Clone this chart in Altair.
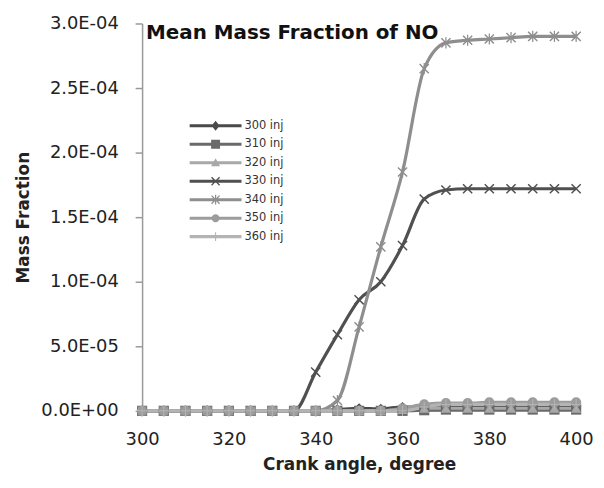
import altair as alt
import pandas as pd

angles = list(range(300, 401, 5))
series_names = ["300 inj", "310 inj", "320 inj", "330 inj", "340 inj", "350 inj", "360 inj"]

v300 = [0, 0, 0, 0, 0, 0, 0, 0, 0, 1e-6, 2e-6, 1.5e-6, 3e-6, 3e-6, 3.5e-6, 3.5e-6, 3.5e-6, 3.5e-6, 3.5e-6, 3.5e-6, 3.5e-6]
v310 = [0, 0, 0, 0, 0, 0, 0, 0, 0, 0, 0, 0, 0, 0.5e-6, 1e-6, 1e-6, 1e-6, 1e-6, 1e-6, 1e-6, 1e-6]
v320 = [0, 0, 0, 0, 0, 0, 0, 0, 0, 0, 0, 0, 1e-6, 2e-6, 2e-6, 2e-6, 2e-6, 2e-6, 2e-6, 2e-6, 2e-6]
v330 = [0, 0, 0, 0, 0, 0, 0, 0, 3.0e-5, 5.9e-5, 8.6e-5, 1.0e-4, 1.28e-4, 1.64e-4, 1.71e-4, 1.72e-4, 1.72e-4, 1.72e-4, 1.72e-4, 1.72e-4, 1.72e-4]
v340 = [0, 0, 0, 0, 0, 0, 0, 0, 0, 8e-6, 6.5e-5, 1.27e-4, 1.85e-4, 2.65e-4, 2.85e-4, 2.87e-4, 2.88e-4, 2.89e-4, 2.9e-4, 2.9e-4, 2.9e-4]
v350 = [0, 0, 0, 0, 0, 0, 0, 0, 0, 0, 0, 0, 2e-6, 5e-6, 6e-6, 6e-6, 6.5e-6, 6.5e-6, 6.5e-6, 6.5e-6, 6.5e-6]
v360 = [0, 0, 0, 0, 0, 0, 0, 0, 0, 0, 0, 0, 0, 3e-6, 5e-6, 5e-6, 5e-6, 5e-6, 5e-6, 5e-6, 5e-6]

values = [v300, v310, v320, v330, v340, v350, v360]
colors = ["#4a4a4a", "#6a6a6a", "#a8a8a8", "#505050", "#8e8e8e", "#9c9c9c", "#b4b4b4"]

X_PATH = "M-1,-0.8L-0.8,-1L0,-0.2L0.8,-1L1,-0.8L0.2,0L1,0.8L0.8,1L0,0.2L-0.8,1L-1,0.8L-0.2,0Z"
AST_PATH = X_PATH + "M-0.12,-1.1L0.12,-1.1L0.12,1.1L-0.12,1.1Z"
PLUS_PATH = "M-1,-0.1L-0.1,-0.1L-0.1,-1L0.1,-1L0.1,-0.1L1,-0.1L1,0.1L0.1,0.1L0.1,1L-0.1,1L-0.1,0.1L-1,0.1Z"
shapes = ["diamond", "square", "triangle-up", X_PATH, AST_PATH, "circle", PLUS_PATH]

# legend symbols: a line segment with the marker on it (unit = 9 px at size 324)
LEG_LINE = "M-2.9,-0.17L2.9,-0.17L2.9,0.17L-2.9,0.17Z"
leg_shapes = [
    LEG_LINE + "M0,-0.55L0.45,0L0,0.55L-0.45,0Z",
    LEG_LINE + "M-0.5,-0.5L0.5,-0.5L0.5,0.5L-0.5,0.5Z",
    LEG_LINE + "M0,-0.5L0.5,0.4L-0.5,0.4Z",
    LEG_LINE + "M-0.5,-0.4L-0.4,-0.5L0,-0.1L0.4,-0.5L0.5,-0.4L0.1,0L0.5,0.4L0.4,0.5L0,0.1L-0.4,0.5L-0.5,0.4L-0.1,0Z",
    LEG_LINE + "M-0.5,-0.4L-0.4,-0.5L0,-0.1L0.4,-0.5L0.5,-0.4L0.1,0L0.5,0.4L0.4,0.5L0,0.1L-0.4,0.5L-0.5,0.4L-0.1,0ZM-0.07,-0.55L0.07,-0.55L0.07,0.55L-0.07,0.55Z",
    LEG_LINE + "M-0.45,0A0.45,0.45,0,1,1,0.45,0A0.45,0.45,0,1,1,-0.45,0Z",
    LEG_LINE + "M-0.5,-0.06L-0.06,-0.06L-0.06,-0.5L0.06,-0.5L0.06,-0.06L0.5,-0.06L0.5,0.06L0.06,0.06L0.06,0.5L-0.06,0.5L-0.06,0.06L-0.5,0.06Z",
]

rows = []
for name, vals in zip(series_names, values):
    for a, v in zip(angles, vals):
        rows.append({"angle": a, "value": v, "series": name})
df = pd.DataFrame(rows)

leg_df = pd.DataFrame({"legser": series_names, "angle": [None] * 7, "value": [None] * 7})

xenc = alt.X("angle:Q", scale=alt.Scale(domain=[300, 400], nice=False),
             axis=alt.Axis(values=[300, 320, 340, 360, 380, 400], title="Crank angle, degree",
                           grid=False, tickSize=0, labelPadding=20, titlePadding=8, labelFlush=False))
yenc = alt.Y("value:Q", scale=alt.Scale(domain=[0, 3e-4], nice=False),
             axis=alt.Axis(values=[0, 5e-5, 1e-4, 1.5e-4, 2e-4, 2.5e-4, 3e-4],
                           labelExpr="datum.value == 0 ? '0.0E+00' : replace(format(datum.value, '.1e'), 'e-', 'E-0')",
                           title="Mass Fraction", grid=False, tickSize=7, labelPadding=17, titlePadding=8,
                           labelFlush=False))

cscale = alt.Scale(domain=series_names, range=colors)

lines = alt.Chart(df).mark_line(interpolate="monotone", strokeWidth=3.2).encode(
    x=xenc, y=yenc,
    color=alt.Color("series:N", scale=cscale, legend=None),
    order=alt.Order("angle:Q"))

points = alt.Chart(df).mark_point(filled=True, size=105, opacity=1).encode(
    x="angle:Q", y="value:Q",
    color=alt.Color("series:N", scale=cscale, legend=None),
    shape=alt.Shape("series:N", scale=alt.Scale(domain=series_names, range=shapes), legend=None))

leg = alt.Legend(title=None, orient="none", legendX=65, legendY=94, padding=0,
                 labelFontSize=11.5, labelColor="#333333", labelFont="DejaVu Sans",
                 symbolSize=324, symbolStrokeWidth=0, rowPadding=3.6, labelOffset=20)

legend_layer = alt.Chart(leg_df).mark_point(filled=True, opacity=1).encode(
    x="angle:Q", y="value:Q",
    color=alt.Color("legser:N", scale=alt.Scale(domain=series_names, range=colors), legend=leg),
    shape=alt.Shape("legser:N", scale=alt.Scale(domain=series_names, range=leg_shapes), legend=leg))

title = alt.Chart(pd.DataFrame({"t": ["Mean Mass Fraction of NO"]})).mark_text(
    align="left", baseline="alphabetic", fontSize=20, fontWeight="bold", font="DejaVu Sans", color="#111111"
).encode(x=alt.value(4), y=alt.value(16), text="t:N")

chart = alt.layer(lines, points, legend_layer, title).resolve_scale(
    color="independent", shape="independent"
).properties(
    width=437, height=390,
    autosize=alt.AutoSizeParams(type="none"),
    padding={"left": 135, "top": 14, "right": 20, "bottom": 62}
).configure_axis(
    domainColor="#999999", domainWidth=1.5, tickColor="#999999", tickWidth=1.5,
    labelFont="DejaVu Sans", labelFontSize=18, labelColor="#222222",
    titleFont="DejaVu Sans", titleFontSize=17, titleFontWeight="bold", titleColor="#222222"
).configure_view(stroke=None)

chart.save("out.html", embed_options={"renderer": "svg", "actions": False})
